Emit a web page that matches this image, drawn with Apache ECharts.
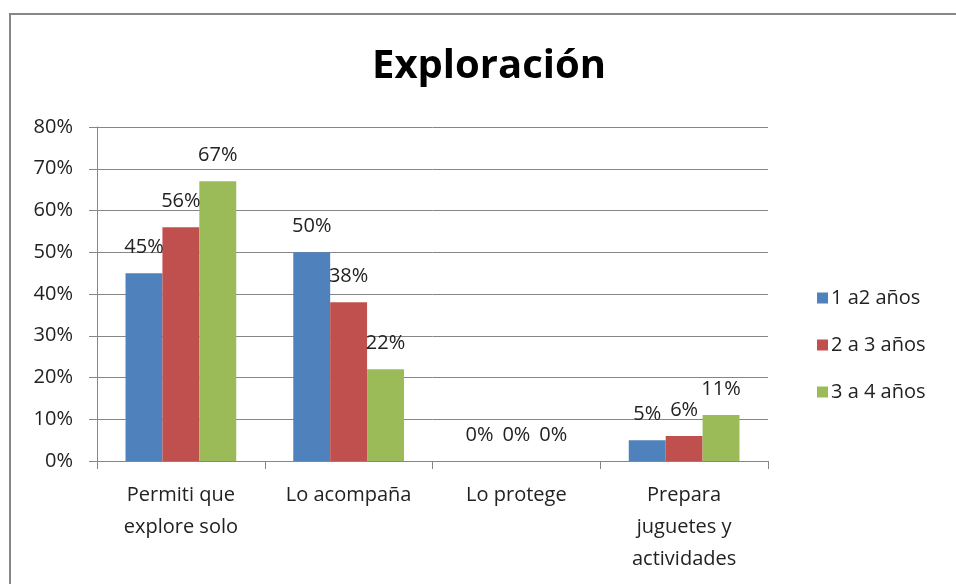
<!DOCTYPE html>
<html>
<head>
<meta charset="utf-8">
<script src="https://cdn.jsdelivr.net/npm/echarts@6/dist/echarts.min.js"></script>
<style>
  html, body { margin: 0; padding: 0; background: #fff; }
  #chart { width: 956px; height: 584px; }
  .frame {
    position: absolute; left: 9px; top: 13px; width: 960px; height: 600px;
    border-left: 2px solid #868686; border-top: 2px solid #868686;
  }
</style>
</head>
<body>
<div class="frame"></div>
<div id="chart" style="position:absolute;left:0;top:0;"></div>
<script>
// categorías y series (en %)
const categories = ['Permiti que\nexplore solo', 'Lo acompaña', 'Lo protege', 'Prepara\njuguetes y\nactividades']
const seriesNames = ['1 a2 años', '2 a 3 años', '3 a 4 años']
const edad1a2 = [45, 50, 0, 5]
const edad2a3 = [56, 38, 0, 6]
const edad3a4 = [67, 22, 0, 11]
const colors = ['#4F81BD', '#C0504D', '#9BBB59']

const font = 'Open Sans, Liberation Sans, sans-serif'
const chart = echarts.init(document.getElementById('chart'))

const makeSeries = (name, data, i) => ({
  name: name,
  type: 'bar',
  data: data,
  barGap: '0%',
  barCategoryGap: '34%',
  itemStyle: { color: colors[i] },
  label: {
    show: true,
    position: 'top',
    distance: 16,
    formatter: '{c}%',
    color: '#222',
    fontSize: 20,
    fontFamily: font
  }
})

chart.setOption({
  animation: false,
  backgroundColor: 'transparent',
  title: {
    text: 'Exploración',
    left: 484,
    top: 42,
    textAlign: 'center',
    textStyle: { fontSize: 40, fontWeight: 'bold', color: '#000', fontFamily: font }
  },
  legend: {
    orient: 'vertical',
    left: 812,
    top: 283,
    itemWidth: 11,
    itemHeight: 11,
    itemGap: 27,
    icon: 'rect',
    data: seriesNames,
    textStyle: { fontSize: 20, color: '#222', fontFamily: font, padding: [0, 0, 0, -2] }
  },
  grid: { left: 97, right: 188, top: 127, bottom: 123 },
  xAxis: {
    type: 'category',
    data: categories,
    axisLine: { lineStyle: { color: '#868686', width: 1 } },
    axisTick: { show: true, length: 8, lineStyle: { color: '#868686' } },
    axisLabel: {
      color: '#222', fontSize: 20, fontFamily: font, lineHeight: 32, margin: 18, interval: 0
    }
  },
  yAxis: {
    type: 'value',
    min: 0,
    max: 80,
    interval: 10,
    axisLine: { show: true, lineStyle: { color: '#868686' } },
    axisTick: { show: true, length: 8, lineStyle: { color: '#868686' } },
    splitLine: { lineStyle: { color: '#868686' } },
    axisLabel: { formatter: '{value}%', color: '#222', fontSize: 20, fontFamily: font, margin: 24 }
  },
  series: [
    makeSeries(seriesNames[0], edad1a2, 0),
    makeSeries(seriesNames[1], edad2a3, 1),
    makeSeries(seriesNames[2], edad3a4, 2)
  ]
})
</script>
</body>
</html>
